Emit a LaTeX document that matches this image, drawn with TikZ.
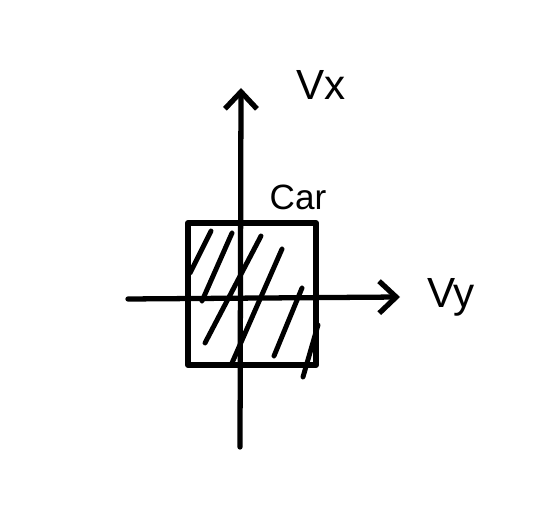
\documentclass[tikz,border=0pt]{standalone}
\usepackage{fontspec}
\setmainfont{Liberation Sans}
\usetikzlibrary{arrows.meta}
\tikzset{
  every picture/.style={line join=round, line cap=round},
  pen/.style={line width=3.4pt},
  axisarrow/.style={line width=3pt, -{Straight Barb[length=3.4mm,width=6.4mm,line width=3pt]}},
  hatchline/.style={line width=2.8pt},
  axislabel/.style={font=\fontsize{24}{24}\selectfont},
}

\begin{document}
\begin{tikzpicture}
\useasboundingbox (0,0) rectangle (10.92,10.60);
% axes
\coordinate (hl) at (2.56,4.62);
\coordinate (hr) at (8.00,4.66);
\coordinate (vb) at (4.80,1.66);
\coordinate (vt) at (4.82,8.84);
\draw[axisarrow] (hl)--(hr);
\draw[axisarrow] (vb)--(vt);
\node[axislabel] (vx) at (6.42,8.90) {Vx};
\node[axislabel] (vy) at (9.02,4.66) {Vy};
% car box
\draw[pen] (3.76,3.30) rectangle (6.32,6.14);
\node[font=\fontsize{20}{20}\selectfont] (car) at (5.96,6.66) {Car};
% hatching
\draw[hatchline] (4.22,5.98)--(3.80,5.14);
\draw[hatchline] (4.64,5.94)--(4.04,4.58);
\draw[hatchline] (5.22,5.88)--(4.10,3.74);
\draw[hatchline] (5.64,5.62)--(4.64,3.34);
\draw[hatchline] (6.04,4.84)--(5.48,3.48);
\draw[hatchline] (6.36,4.10)--(6.06,3.06);
\end{tikzpicture}
\end{document}
